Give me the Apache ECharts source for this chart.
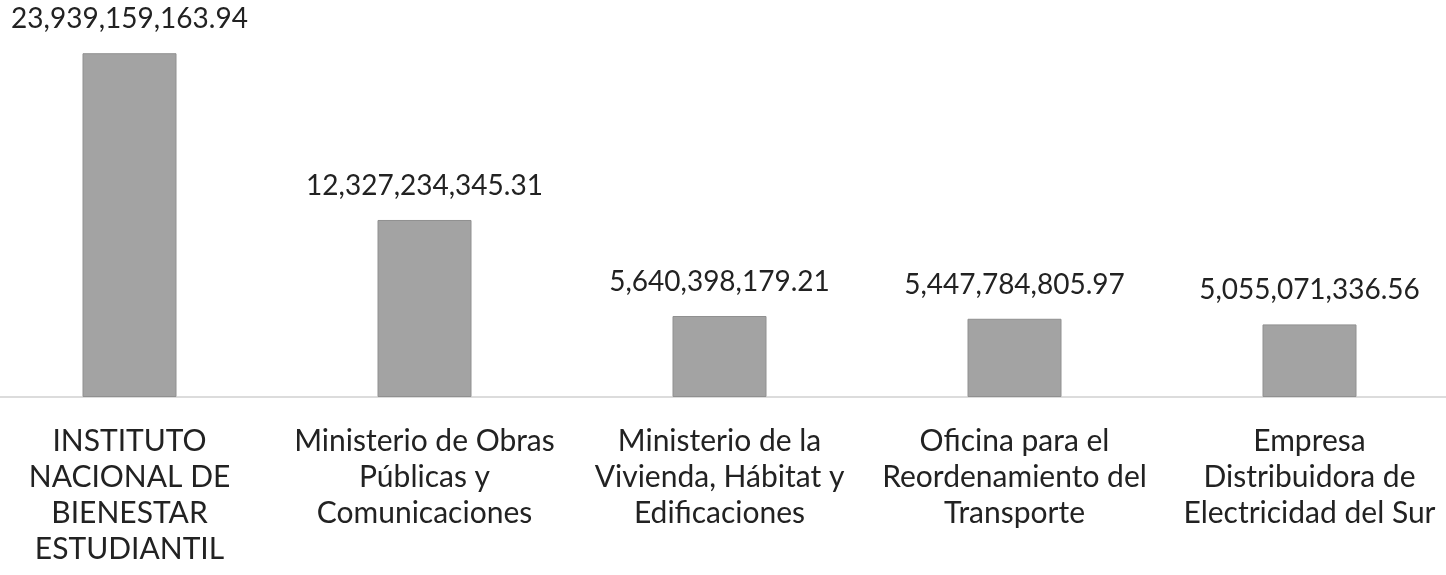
<!DOCTYPE html>
<html>
<head>
<meta charset="utf-8">
<script src="https://cdn.jsdelivr.net/npm/echarts@6/dist/echarts.min.js"></script>
<style>
  html, body { margin: 0; padding: 0; background: #fff; }
  #chart { width: 1446px; height: 575px; }
</style>
</head>
<body>
<div id="chart"></div>
<script>
const categories = [
  'INSTITUTO\nNACIONAL DE\nBIENESTAR\nESTUDIANTIL',
  'Ministerio de Obras\nPúblicas y\nComunicaciones',
  'Ministerio de la\nVivienda, Hábitat y\nEdificaciones',
  'Oficina para el\nReordenamiento del\nTransporte',
  'Empresa\nDistribuidora de\nElectricidad del Sur'
]
const amounts = [23939159163.94, 12327234345.31, 5640398179.21, 5447784805.97, 5055071336.56]

const fmt = v => v.toLocaleString('en-US', { minimumFractionDigits: 2, maximumFractionDigits: 2 })

const chart = echarts.init(document.getElementById('chart'))
chart.setOption({
  animation: false,
  textStyle: { fontFamily: 'Lato' },
  grid: {
    left: -18,
    right: -11,
    top: 38,
    bottom: 178,
    containLabel: false,
    outerBoundsMode: 'none'
  },
  xAxis: {
    type: 'category',
    data: categories,
    axisLine: { lineStyle: { color: '#dcdcdc', width: 2 } },
    axisTick: { show: false },
    axisLabel: {
      interval: 0,
      margin: 26,
      color: '#222',
      fontSize: 30,
      lineHeight: 36,
      fontFamily: 'Lato'
    }
  },
  yAxis: {
    type: 'value',
    min: 0,
    max: 25000000000,
    show: false,
    splitLine: { show: false }
  },
  series: [{
    type: 'bar',
    data: amounts,
    barWidth: 94,
    itemStyle: { color: '#a3a3a3', borderColor: '#909090', borderWidth: 1 },
    label: {
      show: true,
      position: 'top',
      distance: 20,
      color: '#222',
      fontSize: 28,
      fontFamily: 'Lato',
      formatter: p => fmt(p.value)
    }
  }]
})
</script>
</body>
</html>
